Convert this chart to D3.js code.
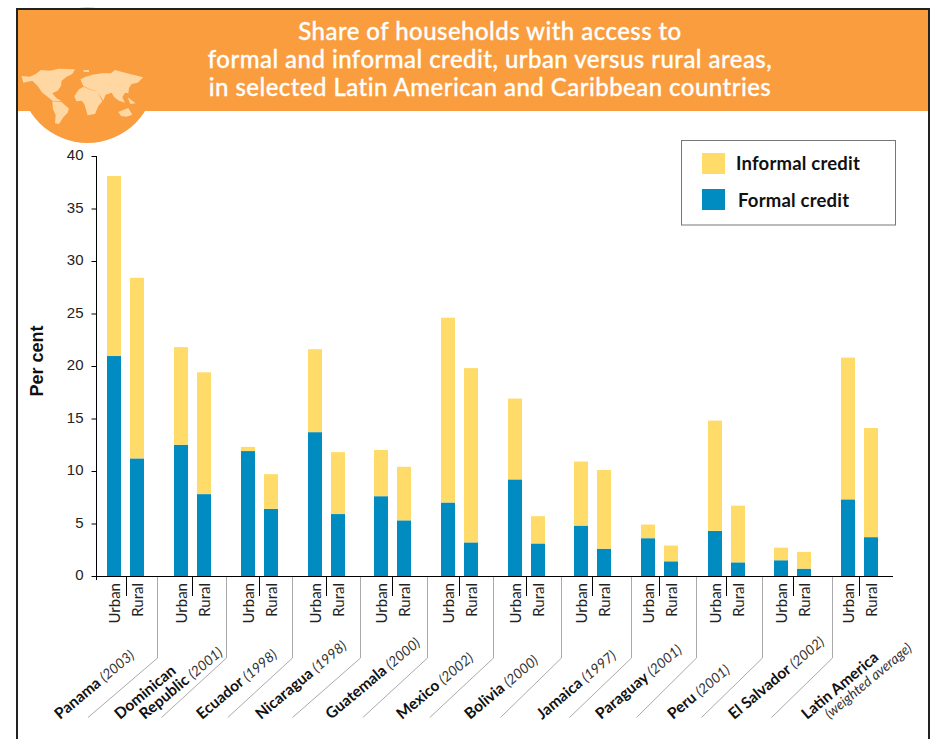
<!DOCTYPE html>
<html>
<head>
<meta charset="utf-8">
<title>Share of households with access to credit</title>
<script src="https://cdn.jsdelivr.net/npm/d3@7"></script>
<style>
	html, body { margin: 0; padding: 0; background: #fff; }
	svg { display: block; }
	text { font-family: Lato, "Open Sans", sans-serif; }
	.num { font-family: "Liberation Sans", Arial, sans-serif; }
</style>
</head>
<body>
<div id="chart"></div>
<script>
var titleLines = [
	"Share of households with access to",
	"formal and informal credit, urban versus rural areas,",
	"in selected Latin American and Caribbean countries"
];
var countries = ["Panama", "Dominican Republic", "Ecuador", "Nicaragua", "Guatemala", "Mexico",
	"Bolivia", "Jamaica", "Paraguay", "Peru", "El Salvador", "Latin America"];
var years = ["(2003)", "(2001)", "(1998)", "(1998)", "(2000)", "(2002)",
	"(2000)", "(1997)", "(2001)", "(2001)", "(2002)", "(weighted average)"];
var kinds = ["Urban", "Rural"];
var urbanFormal = [20.95, 12.5, 11.9, 13.7, 7.6, 7.0, 9.2, 4.8, 3.6, 4.3, 1.5, 7.3];
var urbanInformal = [17.15, 9.3, 0.4, 7.9, 4.4, 17.6, 7.7, 6.1, 1.3, 10.5, 1.2, 13.5];
var ruralFormal = [11.2, 7.8, 6.4, 5.9, 5.3, 3.2, 3.1, 2.6, 1.4, 1.3, 0.7, 3.7];
var ruralInformal = [17.2, 11.6, 3.3, 5.9, 5.1, 16.6, 2.6, 7.5, 1.5, 5.4, 1.6, 10.4];
var yTicks = [0, 5, 10, 15, 20, 25, 30, 35, 40];

// hand placed bits of the category labels and the grey leaders
var labelStartX = [60, 120, 202, 261, 331, 402, 470, 542, 601, 673, 734, 807];
var leaderGap = [17.6, 14.9, 15.9, 14.4, 14.4, 14.2, 13.4, 10.4, 12.1, 12.9, 9.4];
var leaderRun = [69.5, 65, 64.7, 68, 64.7, 63.7, 61, 62, 60, 61, 61];

var width = 934, height = 739;
var colors = { formal: "#008cc0", informal: "#ffdc6a", banner: "#fa9d3f", map: "#ffd7a3" };

var svg = d3.select("#chart").append("svg")
	.attr("width", width)
	.attr("height", height);

var defs = svg.append("defs");
defs.append("filter").attr("id", "soft")
	.append("feGaussianBlur").attr("stdDeviation", 1.8);

// header band with the globe
svg.append("rect").attr("x", 18).attr("y", 9).attr("width", 910).attr("height", 102).attr("fill", colors.banner);
svg.append("circle").attr("cx", 87.5).attr("cy", 75.3).attr("r", 67.7).attr("fill", colors.banner);

var world = [
	"M20,48L45,50L62,42L78,30L105,32L130,26L180,28L172,42L155,50L140,62L138,78L128,92L112,100L125,115L140,124L112,122L95,108L82,98L68,78L52,62L25,68Z",
	"M112,124L140,126L162,146L158,158L145,172L132,192L120,190L122,165L114,148Z",
	"M196,58L212,50L232,44L262,40L288,40L300,30L322,36L345,42L385,52L368,68L350,72L342,84L340,100L330,98L322,112L330,128L312,122L298,112L290,98L272,104L265,122L256,108L244,92L225,88L205,78Z",
	"M178,108L192,88L205,80L228,90L246,92L256,112L262,124L250,138L240,162L218,166L208,132L200,122L184,124Z",
	"M310,156L325,150L340,144L352,164L335,170L318,168Z",
	"M338,112L362,130L346,132Z",
	"M205,30L222,30L222,36L207,36Z"
];
svg.append("g")
	.attr("transform", "translate(15,60) scale(0.3333)")
	.attr("filter", "url(#soft)")
	.selectAll("path")
	.data(world)
	.enter().append("path")
	.attr("d", function(d) { return d; })
	.attr("fill", colors.map);

svg.append("g").selectAll("text")
	.data(titleLines)
	.enter().append("text")
	.attr("x", 490)
	.attr("y", function(d, i) { return 39.5 + i * 28; })
	.attr("text-anchor", "middle")
	.attr("fill", "#fff")
	.attr("stroke", "#fff")
	.attr("stroke-width", 0.3)
	.attr("font-size", 24)
	.attr("font-weight", 500)
	.attr("letter-spacing", 0.45)
	.text(function(d) { return d; });

// frame
svg.append("path").attr("d", "M17,739V9H929V739").attr("fill", "none").attr("stroke", "#222").attr("stroke-width", 2);

// scales
var y = d3.scaleLinear().domain([0, 40]).range([576, 156]);
var xGroup = d3.scaleBand().domain(countries).range([107.4, 107.4 + 12 * 66.7]);
var xKind = d3.scalePoint().domain(kinds).range([0, 23]);
var barWidth = 14;

function barX(country, kind) { return Math.round(xGroup(country) + xKind(kind)); }

// bars
var rows = [];
countries.forEach(function(c, i) {
	rows.push({ country: c, kind: "Urban", formal: urbanFormal[i], informal: urbanInformal[i] });
	rows.push({ country: c, kind: "Rural", formal: ruralFormal[i], informal: ruralInformal[i] });
});
var series = d3.stack().keys(["formal", "informal"])(rows);

svg.append("g").selectAll("g")
	.data(series)
	.enter().append("g")
	.attr("fill", function(s) { return colors[s.key]; })
	.selectAll("rect")
	.data(function(s) { return s; })
	.enter().append("rect")
	.attr("x", function(d) { return barX(d.data.country, d.data.kind); })
	.attr("y", function(d) { return y(d[1]); })
	.attr("width", barWidth)
	.attr("height", function(d) { return y(d[0]) - y(d[1]); });

// y axis
var yAxis = svg.append("g")
	.attr("transform", "translate(96.5,0)")
	.call(d3.axisLeft(y).tickValues(yTicks).tickSize(5).tickSizeOuter(0).tickPadding(8));
yAxis.select(".domain").remove();
yAxis.selectAll("line").attr("stroke", "#000");
yAxis.selectAll("text")
	.attr("class", "num")
	.attr("font-size", 15)
	.attr("fill", "#222")
	.attr("dy", "0.25em")
	.style("font-family", "'Liberation Sans', Arial, sans-serif");
svg.append("line").attr("x1", 96.5).attr("x2", 96.5).attr("y1", 156).attr("y2", 580).attr("stroke", "#000");
svg.append("line").attr("x1", 92).attr("x2", 893).attr("y1", 576.5).attr("y2", 576.5).attr("stroke", "#000");

svg.append("text")
	.attr("class", "num")
	.attr("transform", "translate(43,361) rotate(-90)")
	.attr("text-anchor", "middle")
	.attr("font-size", 18)
	.attr("font-weight", 700)
	.attr("fill", "#111")
	.style("font-family", "'Liberation Sans', Arial, sans-serif")
	.text("Per cent");

// urban / rural labels and the short ticks between them
svg.append("g").selectAll("text")
	.data(rows)
	.enter().append("text")
	.attr("transform", function(d) {
		return "translate(" + (barX(d.country, d.kind) + barWidth / 2 + 5.5) + ",583) rotate(-90)";
	})
	.attr("text-anchor", "end")
	.attr("font-size", 15)
	.attr("fill", "#222")
	.text(function(d) { return d.kind; });

svg.append("g").selectAll("line")
	.data(countries)
	.enter().append("line")
	.attr("x1", function(d) { return Math.round(xGroup(d) + 18.1) + 0.5; })
	.attr("x2", function(d) { return Math.round(xGroup(d) + 18.1) + 0.5; })
	.attr("y1", 576)
	.attr("y2", 596)
	.attr("stroke", "#000");

// grey leaders between countries
svg.append("g").selectAll("path")
	.data(countries.slice(1))
	.enter().append("path")
	.attr("d", function(d, i) {
		var sx = Math.round(xGroup(d) - leaderGap[i]) + 0.5;
		return "M" + sx + ",577V658L" + (sx - leaderRun[i]) + ",717.5";
	})
	.attr("fill", "none")
	.attr("stroke", "#aaa");

// country labels
var labelAngle = -40;
var labels = svg.append("g").selectAll("g")
	.data(countries)
	.enter().append("g")
	.attr("transform", function(d, i) {
		return "translate(" + labelStartX[i] + ",720) rotate(" + labelAngle + ")";
	});

labels.each(function(d, i) {
	var g = d3.select(this);
	if (d === "Dominican Republic") {
		g.append("text").attr("font-size", 15.5).attr("font-weight", 700).attr("fill", "#111").text("Dominican");
		var second = g.append("text").attr("x", 19).attr("y", 16).attr("font-size", 15.5);
		second.append("tspan").attr("font-weight", 700).attr("fill", "#111").text("Republic ");
		second.append("tspan").attr("font-style", "italic").attr("font-size", 14).attr("fill", "#333").text(years[i]);
	} else if (d === "Latin America") {
		g.append("text").attr("font-size", 15.5).attr("font-weight", 700).attr("fill", "#111").text(d);
		g.append("text").attr("x", 18).attr("y", 14).attr("font-size", 14).attr("font-style", "italic").attr("fill", "#333").text(years[i]);
	} else {
		var t = g.append("text").attr("font-size", 15.5);
		t.append("tspan").attr("font-weight", 700).attr("fill", "#111").text(d + " ");
		t.append("tspan").attr("font-style", "italic").attr("font-size", 14).attr("fill", "#333").text(years[i]);
	}
});

// legend
var legend = svg.append("g");
legend.append("rect")
	.attr("x", 681.5).attr("y", 140.5).attr("width", 214).attr("height", 84.5)
	.attr("fill", "#fff").attr("stroke", "#777");
var legendRows = [
	{ key: "informal", label: "Informal credit", sy: 153, tx: 736, ty: 170 },
	{ key: "formal", label: "Formal credit", sy: 189, tx: 738, ty: 207 }
];
legendRows.forEach(function(r) {
	legend.append("rect").attr("x", 702).attr("y", r.sy).attr("width", 23).attr("height", 21).attr("fill", colors[r.key]);
	legend.append("text").attr("x", r.tx).attr("y", r.ty)
		.attr("font-size", 18.5).attr("font-weight", 700).attr("letter-spacing", 0.2).attr("fill", "#111").text(r.label);
});
</script>
</body>
</html>
